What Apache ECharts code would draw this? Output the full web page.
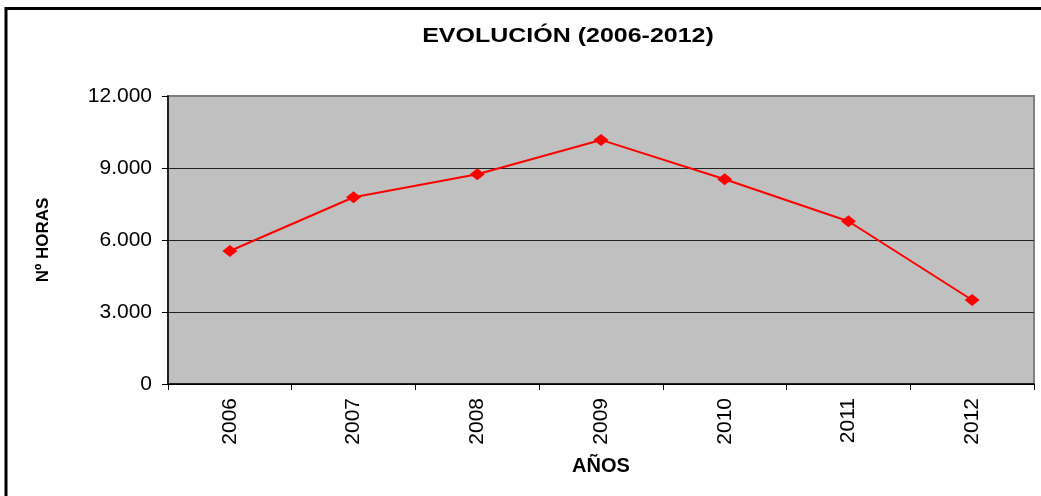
<!DOCTYPE html>
<html>
<head>
<meta charset="utf-8">
<script src="https://cdn.jsdelivr.net/npm/echarts@6/dist/echarts.min.js"></script>
<style>
  html, body { margin: 0; padding: 0; background: #fff; }
  #chart { width: 1041px; height: 496px; }
</style>
</head>
<body>
<div id="chart"></div>
<script>
// datos
const years = ['2006', '2007', '2008', '2009', '2010', '2011', '2012']
const horas = [5540, 7780, 8740, 10170, 8530, 6780, 3500]
const yTicks = [0, 3000, 6000, 9000, 12000]

const chart = echarts.init(document.getElementById('chart'), null, { renderer: 'canvas' })

const font = 'Liberation Sans, Arial, sans-serif'

chart.setOption({
  backgroundColor: '#fff',
  animation: false,
  graphic: [
    // marco exterior (sólo se ven arriba e izquierda)
    {
      type: 'rect',
      shape: { x: 6, y: 8.5, width: 1200, height: 700 },
      style: { fill: null, stroke: '#000', lineWidth: 3 },
      silent: true
    },
    // título algo ensanchado, como en el original
    {
      type: 'text',
      x: 568,
      y: 36,
      scaleX: 1.19,
      style: {
        text: 'EVOLUCIÓN (2006-2012)',
        fontFamily: font,
        fontSize: 21,
        fontWeight: 'bold',
        fill: '#000',
        align: 'center',
        verticalAlign: 'middle'
      },
      silent: true
    }
  ],
  grid: {
    left: 168,
    top: 96,
    right: 7,
    bottom: 112,
    show: true,
    backgroundColor: '#C0C0C0',
    borderColor: '#808080',
    borderWidth: 2
  },
  xAxis: {
    type: 'category',
    data: years,
    boundaryGap: true,
    name: 'AÑOS',
    nameLocation: 'middle',
    nameGap: 72,
    nameTextStyle: { fontFamily: font, fontSize: 20, fontWeight: 'bold', color: '#000' },
    axisLine: { lineStyle: { color: '#000', width: 1.5 } },
    axisTick: { show: true, length: 6, inside: false, lineStyle: { color: '#000' } },
    axisLabel: {
      rotate: 90,
      margin: 14,
      fontFamily: font,
      fontSize: 21,
      color: '#000'
    },
    splitLine: { show: false }
  },
  yAxis: {
    type: 'value',
    min: yTicks[0],
    max: yTicks[yTicks.length - 1],
    interval: 3000,
    name: 'Nº HORAS',
    nameLocation: 'middle',
    nameRotate: 90,
    nameGap: 116,
    nameTextStyle: { fontFamily: font, fontSize: 17, fontWeight: 'bold', color: '#000' },
    axisLine: { show: true, lineStyle: { color: '#000', width: 1.5 } },
    axisTick: { show: true, length: 6, lineStyle: { color: '#000' } },
    axisLabel: {
      margin: 16,
      fontFamily: font,
      fontSize: 21,
      color: '#000',
      formatter: v => v === 0 ? '0' : v.toLocaleString('de-DE')
    },
    splitLine: {
      show: true,
      lineStyle: { color: ['#000', '#222', '#222', '#222', '#808080'], width: 1 }
    }
  },
  series: [{
    type: 'line',
    data: horas,
    symbol: 'diamond',
    symbolSize: [15, 12],
    lineStyle: { color: '#FF0000', width: 2 },
    itemStyle: { color: '#FF0000' }
  }]
})
</script>
</body>
</html>
